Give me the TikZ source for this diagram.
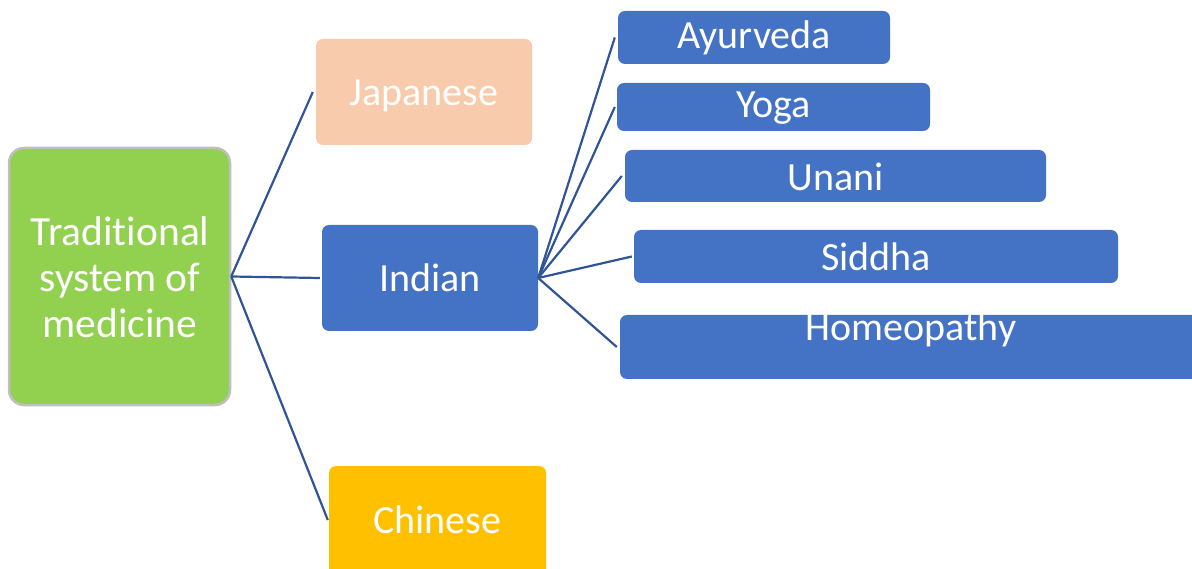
\documentclass[tikz,border=0pt]{standalone}
\usepackage{fontspec}
\setmainfont[Ligatures=NoCommon]{Carlito}
\definecolor{cgreen}{HTML}{92D050}
\definecolor{cgray}{HTML}{BFBFBF}
\definecolor{cpeach}{HTML}{F8CBAD}
\definecolor{cblue}{HTML}{4472C4}
\definecolor{cgold}{HTML}{FFC000}
\definecolor{cline}{HTML}{2F5597}
\tikzset{
  box/.style={rectangle, rounded corners=7pt, inner sep=0pt, text=white, font=\fontsize{40}{46}\selectfont, align=center},
  conn/.style={draw=cline, line width=2.2pt},
  lbl/.style={text=white, font=\fontsize{40}{46}\selectfont, inner sep=0pt}
}
\begin{document}
\begin{tikzpicture}[x=1pt,y=-1pt]
\useasboundingbox (0,0) rectangle (1192,569);
\clip (0,0) rectangle (1192,569);
\node[box, fill=cgreen, draw=cgray, line width=2.5pt, rounded corners=15pt, minimum width=221pt, minimum height=257pt] (trad) at (119.5,276.5) {};
\node[lbl, align=center, font=\fontsize{41.5}{46}\selectfont] (tradt) at (120,277) {Traditional\\system of\\medicine};
\node[box, fill=cpeach, minimum width=216pt, minimum height=106pt] (jap) at (424,92) {};
\node[lbl] (japt) at (424,96) {Japanese};
\node[box, fill=cblue, minimum width=216pt, minimum height=106pt] (ind) at (430,278) {};
\node[lbl] (indt) at (430,278) {Indian};
\node[box, fill=cgold, minimum width=217pt, minimum height=110pt] (chi) at (437.5,521) {};
\node[lbl] (chit) at (437.5,520) {Chinese};
\node[box, fill=cblue, minimum width=272pt, minimum height=53pt] (ayu) at (754,37.5) {};
\node[lbl] (ayut) at (754,38) {Ayurveda};
\node[box, fill=cblue, minimum width=313pt, minimum height=48pt] (yog) at (773.5,107) {};
\node[lbl] (yogt) at (773.5,108) {Yoga};
\node[box, fill=cblue, minimum width=421pt, minimum height=52pt] (una) at (835.5,176) {};
\node[lbl] (unat) at (836,177) {Unani};
\node[box, fill=cblue, minimum width=484pt, minimum height=53pt] (sid) at (876,256.5) {};
\node[lbl] (sidt) at (876,257) {Siddha};
\node[box, fill=cblue, minimum width=580pt, minimum height=64pt] (hom) at (910,347) {};
\node[lbl] (homt) at (911,330) {Homeopathy};
\draw[conn] (trad.east) -- ([xshift=-3pt]jap.west);
\draw[conn] (trad.east) -- ([xshift=-2pt]ind.west);
\draw[conn] (trad.east) -- ([xshift=-1pt]chi.west |- chit);
\draw[conn] (ind.east) -- ([xshift=-3pt]ayu.west);
\draw[conn] (ind.east) -- ([xshift=-2pt]yog.west);
\draw[conn] (ind.east) -- ([xshift=-3pt]una.west);
\draw[conn] (ind.east) -- ([xshift=-2pt]sid.west);
\draw[conn] (ind.east) -- ([xshift=-3pt]hom.west);
\end{tikzpicture}
\end{document}
